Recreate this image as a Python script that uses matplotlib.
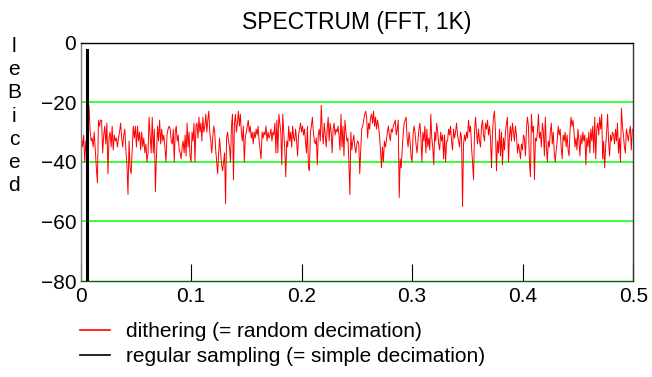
import numpy as np
import matplotlib
matplotlib.use("Agg")
from matplotlib import pyplot as plt

plt.rcParams['font.family'] = ['Liberation Sans', 'DejaVu Sans']

# dithering spectrum (dB) in six strips along x
seg_edges = [0.0, 0.083, 0.166, 0.249, 0.332, 0.416, 0.5]
dith_db = [
    [-44, -32, -35, -31, -40, -33, -38, -33, -21, -29, -33, -32, -35, -30, -36, -42, -47, -26, -28, -26,
     -26, -37, -31, -28, -34, -27, -44, -32, -30, -35, -28, -36, -31, -33, -32, -35, -32, -30, -27, -32,
     -35, -31, -29, -36, -41, -51, -33, -42, -44, -36, -28, -32, -28, -35, -28, -33, -30, -36, -30, -35,
     -32, -37, -34, -40, -37, -25, -31, -37, -25, -37, -29, -50, -38, -28, -33, -26, -34, -29, -33, -31,
     -35, -40, -31, -29, -28, -29, -33],
    [-34, -29, -40, -30, -28, -33, -31, -36, -37, -39, -35, -33, -37, -31, -38, -27, -35, -30, -38, -40,
     -30, -33, -27, -40, -28, -27, -32, -25, -30, -27, -33, -25, -30, -28, -24, -30, -26, -23, -30, -33,
     -37, -32, -28, -30, -36, -40, -44, -37, -32, -37, -41, -43, -40, -37, -54, -32, -30, -33, -35, -40,
     -28, -24, -46, -27, -24, -30, -27, -23, -28, -24, -30, -33, -28, -40, -32, -30, -28, -26, -30, -28,
     -32, -30, -34, -30, -32, -29, -31, -28, -33, -36, -39, -30, -32],
    [-30, -31, -28, -33, -30, -32, -31, -29, -33, -30, -31, -27, -37, -26, -37, -24, -27, -30, -41, -24,
     -30, -36, -45, -33, -35, -28, -33, -30, -35, -28, -32, -33, -29, -33, -38, -31, -29, -27, -30, -28,
     -31, -29, -33, -37, -28, -42, -43, -30, -28, -25, -30, -33, -34, -32, -41, -31, -29, -33, -21, -30,
     -34, -27, -31, -35, -29, -25, -33, -27, -30, -37, -29, -27, -31, -29, -30, -28, -31, -36, -24, -35,
     -28, -38, -26, -30, -33, -32, -40, -51, -30, -36, -33, -31, -35],
    [-37, -34, -33, -34, -44, -36, -29, -28, -26, -24, -23, -25, -32, -27, -29, -25, -24, -27, -23, -28,
     -25, -29, -26, -28, -31, -36, -42, -35, -40, -33, -35, -33, -30, -28, -31, -33, -29, -30, -28, -27,
     -26, -31, -29, -26, -52, -39, -42, -36, -31, -27, -26, -25, -32, -35, -30, -33, -38, -40, -31, -28,
     -30, -34, -37, -33, -29, -27, -32, -40, -30, -33, -28, -37, -29, -35, -32, -36, -24, -32, -35, -41,
     -30, -33, -27, -30, -34, -36, -30, -33, -31, -39, -31, -40, -33],
    [-33, -29, -31, -28, -33, -36, -29, -32, -30, -27, -31, -33, -35, -30, -32, -55, -34, -31, -33, -30,
     -32, -26, -30, -28, -35, -40, -46, -30, -25, -30, -34, -29, -33, -35, -28, -26, -31, -33, -27, -29,
     -26, -31, -28, -32, -42, -30, -25, -23, -30, -43, -33, -37, -29, -38, -30, -41, -32, -36, -30, -27,
     -25, -40, -31, -28, -33, -27, -30, -33, -28, -31, -37, -34, -36, -39, -34, -36, -31, -32, -38, -29,
     -25, -28, -40, -45, -24, -30, -28, -46, -32, -33, -30, -24, -32],
    [-30, -35, -27, -30, -38, -25, -35, -40, -33, -35, -30, -27, -34, -30, -37, -40, -36, -33, -28, -31,
     -29, -35, -39, -31, -33, -30, -35, -31, -36, -38, -29, -25, -28, -26, -30, -35, -32, -36, -29, -33,
     -38, -31, -34, -30, -33, -31, -41, -32, -35, -30, -37, -29, -33, -28, -37, -25, -39, -29, -27, -31,
     -25, -29, -24, -39, -33, -42, -35, -30, -24, -33, -38, -31, -33, -30, -31, -34, -29, -33, -27, -37,
     -32, -40, -22, -28, -31, -35, -37, -29, -31, -33, -30, -28, -36, -29],
]

# regular sampling: a single tone, everything else below the plot floor
reg_freq = [0.0063, 0.0063]
reg_db = [-2.4, -120]

freq = []
for i, seg in enumerate(dith_db):
    freq.append(np.linspace(seg_edges[i], seg_edges[i + 1], len(seg), endpoint=False))
freq = np.concatenate(freq)
db = np.concatenate([np.asarray(s, dtype=float) for s in dith_db])

fig = plt.figure(figsize=(6.52, 3.77), dpi=100)
ax = fig.add_axes([0.1235, 0.2546, 0.8478, 0.6321])

for lev in [-20, -40, -60]:
    ax.axhline(lev, color='#00ff00', lw=1.1, zorder=1)

ax.plot(freq, db, color='#ff0000', lw=0.7, zorder=2,
        label='dithering (= random decimation)')
ax.plot(reg_freq, reg_db, color='black', lw=2.2, zorder=3,
        label='regular sampling (= simple decimation)')

ax.set_xlim(0, 0.5)
ax.set_ylim(-80, 0)
ax.set_xticks([0, 0.1, 0.2, 0.3, 0.4, 0.5])
ax.set_xticklabels(['0', '0.1', '0.2', '0.3', '0.4', '0.5'])
ax.set_yticks([0, -20, -40, -60, -80])
ax.set_yticklabels(['0', '\u221220', '\u221240', '\u221260', '\u221280'])
ax.tick_params(axis='x', direction='in', length=12, width=0.8, pad=4, labelsize=15)
ax.tick_params(axis='y', length=0, pad=3, labelsize=15)

ax.spines['bottom'].set_color('#006400')
ax.spines['left'].set_color('#808080')
ax.spines['top'].set_color('black')
ax.spines['right'].set_color('#333333')
for s in ax.spines.values():
    s.set_linewidth(1.0)

ax.set_title('SPECTRUM (FFT, 1K)', fontsize=16.5, pad=10)

# y label written as stacked letters
fig.text(0.022, 0.902, 'l\ne\nB\ni\nc\ne\nd', fontsize=15, ha='center', va='top',
         multialignment='center', linespacing=1.28)

leg = fig.legend(loc='upper left', bbox_to_anchor=(0.123, 0.146), frameon=False,
                 fontsize=15, handlelength=1.45, handletextpad=0.77, labelspacing=0.31,
                 borderaxespad=0, borderpad=0)
for h in leg.get_lines():
    h.set_linewidth(1.2)

fig.savefig('out.png', dpi=100)
